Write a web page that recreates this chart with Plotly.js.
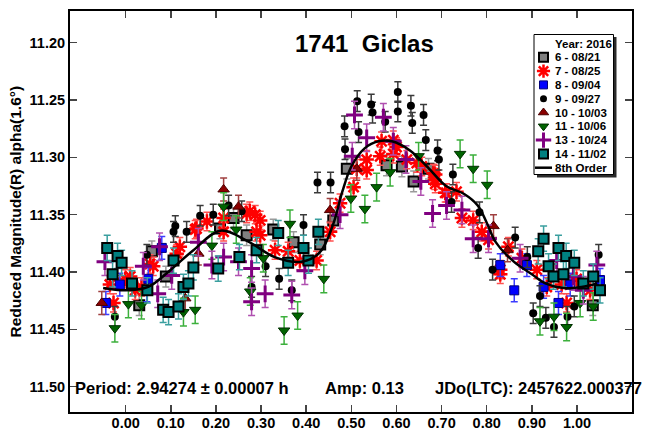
<!DOCTYPE html>
<html><head><meta charset="utf-8">
<script src="https://cdn.plot.ly/plotly-3.0.1.min.js"></script>
<style>html,body{margin:0;padding:0;background:#fff}#chart{width:650px;height:431px}</style>
</head><body><div id="chart"></div>
<script>
// ---- data ----
const seriesNames = ['6 - 08/21','7 - 08/25','8 - 09/04','9 - 09/27','10 - 10/03','11 - 10/06','13 - 10/24','14 - 11/02'];
const seriesErr = [0.009, 0.008, 0.010, 0.009, 0.010, 0.012, 0.012, 0.011];

const s6Phase = [0.030,0.089,0.058,0.268,0.239,0.209,0.490,0.578,0.612,0.638,0.671,0.327,0.372,0.431,0.460,1.035];
const s6Mag   = [11.429,11.404,11.382,11.368,11.353,11.362,11.310,11.307,11.308,11.321,11.310,11.363,11.374,11.376,11.355,11.429];

const s7Phase = [-0.027,-0.035,-0.001,0.010,0.035,0.054,0.021,0.120,0.157,0.180,0.217,0.217,0.268,0.287,0.290,0.154,0.113,0.061,
  0.534,0.512,0.505,0.564,0.567,0.593,0.593,0.600,0.623,0.645,0.656,0.686,0.686,0.711,0.453,0.423,0.475,0.386,0.360,0.331,0.298,0.298,0.275,0.534,
  0.682,0.708,0.733,0.745,0.770,0.789,0.804,0.830,0.848,0.878,0.911,0.933,0.966,0.977,0.999,1.029,0.685,0.830];
const s7Mag   = [11.427,11.411,11.406,11.404,11.413,11.393,11.416,11.378,11.362,11.356,11.353,11.365,11.349,11.350,11.365,11.363,11.384,11.395,
  11.302,11.310,11.326,11.299,11.286,11.297,11.285,11.291,11.302,11.305,11.308,11.315,11.323,11.331,11.365,11.390,11.340,11.390,11.382,11.381,11.355,11.368,11.347,11.311,
  11.314,11.331,11.330,11.353,11.355,11.365,11.372,11.398,11.378,11.388,11.398,11.413,11.411,11.427,11.406,11.416,11.320,11.402];

const s8Phase = [-0.044,-0.013,0.080,0.050,0.047,0.830,0.889,0.861,0.926,0.959,1.051,0.985];
const s8Mag   = [11.427,11.411,11.379,11.406,11.416,11.394,11.394,11.416,11.413,11.427,11.407,11.411];

const s9Phase = [-0.024,0.106,0.110,0.135,0.165,0.194,0.228,0.257,0.279,0.047,
  0.513,0.485,0.486,0.516,0.544,0.547,0.575,0.603,0.603,0.632,0.635,0.660,0.665,0.691,0.694,0.394,0.425,0.454,0.340,0.368,0.310,
  0.725,0.722,0.784,0.781,0.813,0.863,0.890,0.918,0.903,0.931,0.949,0.979,1.048,0.994];
const s9Mag   = [11.439,11.365,11.360,11.365,11.351,11.350,11.342,11.347,11.413,11.385,
  11.251,11.273,11.293,11.278,11.254,11.261,11.269,11.260,11.243,11.255,11.270,11.263,11.285,11.294,11.302,11.359,11.322,11.322,11.406,11.416,11.395,
  11.315,11.339,11.348,11.379,11.398,11.370,11.387,11.421,11.436,11.440,11.448,11.439,11.385,11.430];

const s10Phase = [-0.053,0.217,0.250,0.132,0.161,0.512,0.453,0.815,0.846];
const s10Mag   = [11.427,11.328,11.343,11.423,11.384,11.310,11.346,11.360,11.381];

const s11Phase = [-0.024,0.006,0.035,0.154,0.128,0.191,0.217,0.276,0.245,0.499,0.530,0.556,0.586,0.649,0.364,0.439,0.305,0.351,0.381,0.741,0.770,0.801,0.918,0.949,0.977,1.007,1.036];
const s11Mag   = [11.449,11.428,11.429,11.433,11.435,11.377,11.343,11.417,11.363,11.336,11.345,11.326,11.313,11.299,11.358,11.406,11.388,11.451,11.438,11.297,11.310,11.324,11.443,11.439,11.448,11.427,11.430];

const s13Phase = [-0.046,0.071,0.075,0.102,0.191,0.217,0.250,0.279,0.279,0.161,0.039,
  0.507,0.534,0.502,0.571,0.621,0.654,0.680,0.711,0.475,0.397,0.368,0.309,0.593,
  0.745,0.770,0.804,0.874,0.955,0.992,1.044,1.014];
const s13Mag   = [11.391,11.419,11.378,11.403,11.394,11.387,11.391,11.397,11.426,11.374,11.395,
  11.263,11.283,11.299,11.265,11.302,11.321,11.349,11.342,11.350,11.399,11.420,11.419,11.286,
  11.346,11.371,11.371,11.388,11.390,11.404,11.394,11.416];

const s14Phase = [-0.041,-0.029,-0.018,-0.009,0.083,0.095,0.117,0.128,0.139,0.150,0.106,0.048,0.205,0.252,0.290,0.014,
  0.338,0.394,0.360,0.405,0.427,
  0.926,0.914,0.959,0.976,0.994,0.937,0.948,0.970,1.014,1.036,1.051];
const s14Mag   = [11.379,11.402,11.386,11.392,11.433,11.435,11.430,11.413,11.410,11.396,11.390,11.416,11.397,11.387,11.381,11.410,
  11.366,11.379,11.392,11.390,11.365,
  11.371,11.382,11.379,11.386,11.392,11.395,11.404,11.402,11.410,11.404,11.416];

const fitPhase = [-0.05,0.00,0.05,0.10,0.15,0.21,0.27,0.33,0.39,0.43,0.46,0.48,0.50,0.53,0.56,0.59,0.63,0.67,0.71,0.75,0.78,0.80,0.82,0.86,0.90,0.93,0.97,1.01,1.045];
const fitMag   = [11.414,11.416,11.413,11.398,11.381,11.364,11.373,11.387,11.391,11.383,11.358,11.330,11.308,11.292,11.286,11.286,11.294,11.309,11.325,11.332,11.342,11.357,11.374,11.391,11.402,11.410,11.414,11.413,11.410];

const xTickVals = [0,0.1,0.2,0.3,0.4,0.5,0.6,0.7,0.8,0.9,1.0];
const yTickVals = [11.20,11.25,11.30,11.35,11.40,11.45,11.50];

const titleText = '1741\u00a0\u00a0Giclas';
const yTitleText = 'Reduced Magnitude(R) alpha(1.6\u00b0)';
const legendHeader = 'Year: 2016';
const fitName = '8th Order';
const periodText = 'Period: 2.94274 \u00b1 0.00007 h';
const ampText = 'Amp: 0.13';
const jdText = 'JDo(LTC): 2457622.000377';

// ---- styles ----
const FONT = 'Liberation Sans, Arial, sans-serif';
const styles = [
  {symbol:'square', size:10, color:'#808080', line:{color:'#000000', width:2}, err:'#9a9a9a'},
  {symbol:'asterisk-open', size:12, color:'#ff0000', line:{color:'#ff0000', width:2.5}, err:'#ff5050'},
  {symbol:'square', size:9, color:'#0000ff', line:{color:'#00007a', width:1}, err:'#3c3cff'},
  {symbol:'circle', size:8, color:'#000000', line:{color:'#000000', width:0}, err:'#3a3a3a'},
  {symbol:'triangle-up', size:10, color:'#8b0000', line:{color:'#4a0000', width:1}, err:'#a04040'},
  {symbol:'triangle-down', size:10, color:'#006400', line:{color:'#003000', width:1}, err:'#3cb03c'},
  {symbol:'cross-thin-open', size:12, color:'#800080', line:{color:'#800080', width:3}, err:'#b050b0'},
  {symbol:'square', size:10, color:'#008080', line:{color:'#000000', width:2}, err:'#3a9f9f'}
];
const phases = [s6Phase,s7Phase,s8Phase,s9Phase,s10Phase,s11Phase,s13Phase,s14Phase];
const mags = [s6Mag,s7Mag,s8Mag,s9Mag,s10Mag,s11Mag,s13Mag,s14Mag];

const traces = [];
seriesNames.forEach((name,i)=>{
  const st = styles[i];
  traces.push({
    type:'scatter', mode:'markers', name:name, showlegend:false,
    x:phases[i], y:mags[i],
    error_y:{type:'constant', value:seriesErr[i], color:st.err, thickness:1.5, width:3.5},
    marker:{symbol:st.symbol, size:st.size, color:st.color, line:st.line}
  });
});
traces.push({type:'scatter', mode:'lines', name:fitName, showlegend:false, x:fitPhase, y:fitMag,
  line:{color:'#000000', width:2.5, shape:'spline', smoothing:1}});

// ---- custom legend on a pixel-space overlay axis ----
const legX = 543.5, legTextX = 553, legTop = 43.5, legStep = 13.8;
const annotations = [];
annotations.push({xref:'x2', yref:'y2', x:legTextX, y:legTop, text:legendHeader, showarrow:false, xanchor:'left', yanchor:'middle',
  font:{family:FONT, size:11.5, weight:'bold', color:'#000'}});
seriesNames.forEach((name,i)=>{
  const st = styles[i];
  const yy = legTop + legStep*(i+1);
  traces.push({type:'scatter', mode:'markers', xaxis:'x2', yaxis:'y2', showlegend:false, hoverinfo:'skip',
    x:[legX], y:[yy], marker:{symbol:st.symbol, size:st.size-1, color:st.color, line:st.line}});
  annotations.push({xref:'x2', yref:'y2', x:legTextX, y:yy, text:name, showarrow:false, xanchor:'left', yanchor:'middle',
    font:{family:FONT, size:11.5, weight:'bold', color:'#000'}});
});
const fitRowY = legTop + legStep*9;
traces.push({type:'scatter', mode:'lines', xaxis:'x2', yaxis:'y2', showlegend:false, hoverinfo:'skip',
  x:[535,552], y:[fitRowY,fitRowY], line:{color:'#000', width:2.5}});
annotations.push({xref:'x2', yref:'y2', x:552.5, y:fitRowY, text:fitName, showarrow:false, xanchor:'left', yanchor:'middle',
  font:{family:FONT, size:11.5, weight:'bold', color:'#000'}});

// bottom texts
[[73,periodText],[323,ampText],[432.5,jdText]].forEach(([xx,t])=>{
  annotations.push({xref:'x2', yref:'y2', x:xx, y:388, text:t, showarrow:false, xanchor:'left', yanchor:'middle',
    font:{family:FONT, size:16.5, weight:'bold', color:'#000'}});
});
// title
annotations.push({xref:'x2', yref:'y2', x:364, y:43, text:titleText, showarrow:false, xanchor:'center', yanchor:'middle',
  font:{family:FONT, size:24, weight:'bold', color:'#000'}});
// y-axis title
annotations.push({xref:'paper', yref:'paper', x:(15-70)/562, y:0.5, text:yTitleText, showarrow:false, textangle:-90,
  xanchor:'center', yanchor:'middle', font:{family:FONT, size:15.5, weight:'bold', color:'#000'}});

const shapes = [
  {type:'rect', xref:'x2', yref:'y2', x0:537, y0:37, x1:616.5, y1:177.5, fillcolor:'#2a2a2a', line:{width:0}, layer:'below'},
  {type:'rect', xref:'x2', yref:'y2', x0:534, y0:34.5, x1:613.5, y1:174.5, fillcolor:'#ffffff', line:{color:'#000', width:1}, layer:'below'}
];

const tickFont = {family:FONT, size:14.5, weight:'bold', color:'#000'};
const layout = {
  width:650, height:431,
  margin:{l:70, r:18, t:11, b:19, pad:0},
  paper_bgcolor:'#ffffff', plot_bgcolor:'#ffffff',
  showlegend:false,
  xaxis:{range:[-0.1234,1.1219], tickvals:xTickVals, tickformat:'.2f', ticks:'inside', ticklen:7, tickwidth:1.5, tickcolor:'#444',
    showline:true, linecolor:'#000', linewidth:2, mirror:'ticks', showgrid:false, zeroline:false, tickfont:tickFont, ticklabelstandoff:-3},
  yaxis:{range:[11.5221, 11.1724], tickvals:yTickVals, tickformat:'.2f', ticks:'inside', ticklen:7, tickwidth:1.5, tickcolor:'#444',
    showline:true, linecolor:'#000', linewidth:2, mirror:'ticks', showgrid:false, zeroline:false, tickfont:tickFont},
  xaxis2:{overlaying:'x', anchor:'y2', range:[70,632], visible:false, fixedrange:true},
  yaxis2:{overlaying:'y', anchor:'x2', range:[412,11], visible:false, fixedrange:true},
  annotations:annotations,
  shapes:shapes
};
Plotly.newPlot('chart', traces, layout, {staticPlot:true, displayModeBar:false});
</script></body></html>
